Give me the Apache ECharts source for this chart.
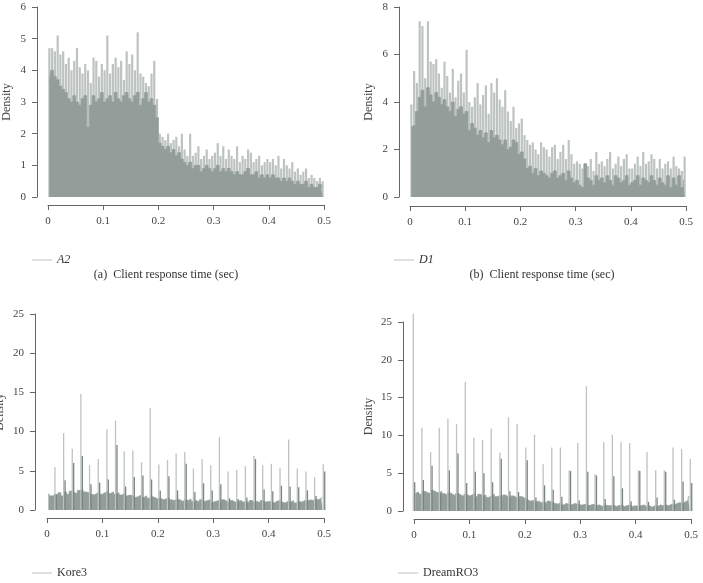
<!DOCTYPE html>
<html>
<head>
<meta charset="utf-8">
<script src="https://cdn.jsdelivr.net/npm/echarts@6/dist/echarts.min.js"></script>
<style>
  html, body { margin: 0; padding: 0; background: #fff; }
  #chart { width: 703px; height: 583px; }
</style>
</head>
<body>
<div id="chart"></div>
<script>
// bins of 0.005 sec from 0 to 0.5 (100 bins per panel)
const a2Body = [
  3.6, 4.0, 3.8, 3.7, 3.5, 3.4, 3.3, 3.1, 3.0, 3.2,
  3.0, 2.9, 3.1, 3.2, 2.2, 2.9, 3.2, 3.0, 3.1, 3.3,
  3.0, 3.1, 3.2, 3.0, 3.3, 3.1, 3.0, 3.2, 3.3, 3.1,
  3.0, 3.2, 3.3, 2.9, 3.1, 3.3, 3.0, 3.1, 2.9, 2.5,
  1.7, 1.6, 1.5, 1.6, 1.4, 1.5, 1.3, 1.4, 1.2, 1.1,
  1.0, 1.1, 0.9, 1.0, 1.0, 0.8, 0.9, 1.0, 0.9, 0.8,
  0.9, 1.0, 0.8, 0.9, 0.8, 0.9, 0.8, 0.7, 0.8, 0.7,
  0.7, 0.8, 0.9, 0.7, 0.7, 0.8, 0.6, 0.7, 0.6, 0.7,
  0.6, 0.7, 0.6, 0.6, 0.5, 0.6, 0.5, 0.6, 0.5, 0.4,
  0.5, 0.4, 0.4, 0.5, 0.3, 0.4, 0.3, 0.3, 0.4, 0.3
]
const a2Tips = [
  4.7, 4.7, 4.6, 5.1, 4.5, 4.6, 4.2, 4.4, 4.0, 4.3,
  4.7, 4.1, 3.9, 4.2, 4.0, 3.6, 4.4, 4.3, 3.8, 4.2,
  4.0, 5.1, 3.9, 4.2, 4.4, 4.1, 4.3, 3.7, 4.6, 4.2,
  4.5, 4.0, 5.2, 3.9, 3.8, 3.6, 3.5, 3.9, 4.3, 3.1,
  2.0, 1.9, 1.8, 2.0, 1.7, 1.8, 1.9, 1.6, 2.0, 1.5,
  1.3, 2.0, 1.3, 1.4, 1.6, 1.2, 1.3, 1.5, 1.2, 1.3,
  1.4, 1.7, 1.3, 1.6, 1.2, 1.5, 1.3, 1.2, 1.6, 1.1,
  1.3, 1.2, 1.5, 1.4, 1.1, 1.2, 1.3, 1.0, 1.1, 1.2,
  1.1, 1.2, 1.0, 1.3, 0.9, 1.2, 1.0, 0.9, 1.1, 0.8,
  0.9, 0.7, 0.8, 0.9, 0.6, 0.7, 0.6, 0.5, 0.6, 0.5
]
const d1Body = [
  2.9, 3.0, 3.6, 4.2, 4.5, 3.8, 4.6, 4.3, 4.0, 4.4,
  4.2, 3.9, 4.1, 3.8, 3.6, 4.0, 3.4, 3.7, 3.8, 3.5,
  3.6, 2.8, 3.1, 2.9, 2.6, 2.8, 2.5, 2.7, 2.3, 2.8,
  2.5, 2.6, 2.4, 2.2, 2.4, 2.0, 2.1, 2.4, 2.3, 1.8,
  1.9, 1.6, 1.2, 1.3, 1.0, 1.2, 0.9, 1.1, 1.0, 0.9,
  0.8, 1.0, 1.1, 0.8, 0.9, 1.0, 0.7, 1.1, 0.8, 0.6,
  0.7, 0.5, 0.4, 1.4, 0.8, 0.7, 0.5, 0.9, 0.7, 0.8,
  0.6, 0.9, 0.7, 0.5, 0.9, 0.8, 0.6, 0.7, 0.9, 0.5,
  0.6, 0.7, 0.9, 0.5, 0.8, 0.7, 0.6, 0.9, 0.7, 0.5,
  0.8, 0.6, 0.5, 0.9, 0.4, 0.8, 0.5, 0.9, 0.4, 0.7
]
const d1Tips = [
  3.9, 5.3, 4.8, 7.4, 7.2, 5.0, 7.4, 5.7, 5.6, 5.8,
  5.2, 4.6, 5.7, 5.1, 4.4, 5.4, 4.2, 4.9, 5.2, 4.4,
  6.2, 4.0, 3.8, 4.2, 4.8, 3.9, 4.3, 4.7, 3.5, 4.8,
  4.4, 5.0, 4.1, 3.8, 4.5, 3.6, 3.2, 3.8, 2.9, 3.1,
  3.3, 2.6, 2.4, 2.2, 2.3, 2.0, 1.8, 2.3, 2.1, 2.0,
  1.7, 2.1, 2.2, 1.6, 1.9, 2.2, 1.6, 2.4, 1.8, 1.4,
  1.5, 1.4, 1.2, 1.4, 1.3, 1.6, 1.1, 1.9, 1.4, 1.5,
  1.3, 1.6, 1.9, 1.2, 1.4, 1.7, 1.3, 1.6, 1.8, 1.2,
  1.2, 1.4, 1.7, 1.3, 1.9, 1.4, 1.5, 1.8, 1.6, 1.2,
  1.6, 1.2, 1.4, 1.5, 1.2, 1.7, 1.3, 1.2, 1.1, 1.7
]
const kore3Body = [
  2.1, 1.8, 2.0, 1.9, 2.2, 1.8, 2.3, 2.0, 2.4, 2.2,
  2.1, 2.5, 2.6, 2.3, 2.2, 2.0, 1.9, 2.1, 2.3, 2.0,
  2.2, 2.4, 2.1, 2.3, 2.0, 2.2, 1.9, 2.1, 1.8, 1.9,
  1.8, 1.6, 1.7, 1.9, 1.6, 1.8, 1.5, 1.7, 1.6, 1.4,
  1.5, 1.3, 1.4, 1.6, 1.3, 1.2, 1.4, 1.3, 1.1, 1.3,
  1.2, 1.4, 1.1, 1.2, 1.0, 1.3, 1.1, 1.2, 1.3, 1.0,
  1.1, 1.2, 1.0, 1.3, 1.1, 0.9, 1.2, 1.0, 1.1, 1.2,
  1.0, 1.1, 0.9, 1.2, 1.0, 1.1, 0.9, 1.2, 1.0, 1.1,
  1.0, 0.9, 1.1, 1.2, 1.0, 0.9, 1.1, 1.0, 1.2, 0.9,
  1.1, 1.0, 1.2, 1.1, 1.3, 1.2, 1.4, 1.3, 1.5, 1.6
]
const kore3SpikeX = [
  0.0156, 0.0313, 0.0469, 0.0625, 0.0781, 0.0938, 0.1094, 0.125,
  0.1406, 0.1563, 0.1719, 0.1875, 0.2031, 0.2188, 0.2344, 0.25,
  0.2656, 0.2813, 0.2969, 0.3125, 0.3281, 0.3438, 0.3594, 0.375,
  0.3906, 0.4063, 0.4219, 0.4375, 0.4531, 0.4688, 0.4844, 0.5
]
const kore3Spikes = [
  5.5, 9.8, 7.8, 14.8, 5.7, 6.5, 10.3, 11.4,
  7.5, 7.6, 6.1, 13.0, 5.8, 6.4, 7.2, 7.4,
  5.3, 6.5, 5.7, 9.3, 4.9, 5.1, 5.6, 6.9,
  5.7, 5.9, 5.4, 9.0, 5.3, 4.9, 4.2, 5.9
]
const kore3Inner = [
  2.0, 3.8, 6.0, 6.9, 3.3, 3.5, 3.9, 8.3,
  3.0, 4.2, 4.4, 3.9, 2.5, 4.3, 2.5, 5.9,
  2.3, 3.4, 2.5, 3.3, 1.5, 1.4, 1.6, 6.5,
  2.6, 2.4, 3.1, 3.0, 2.9, 2.5, 1.8, 4.9
]
const dreamBody = [
  2.3, 2.5, 2.2, 2.6, 2.4, 2.3, 2.7, 2.5, 2.4, 2.6,
  2.3, 2.1, 2.4, 2.2, 2.0, 2.3, 2.1, 1.9, 2.2, 2.0,
  2.1, 2.3, 1.9, 2.2, 2.0, 2.1, 1.8, 2.0, 2.2, 1.9,
  2.0, 1.8, 2.1, 1.9, 1.7, 2.0, 1.8, 1.6, 1.9, 1.7,
  1.5, 1.3, 1.4, 1.2, 1.3, 1.1, 1.2, 1.0, 1.3, 1.1,
  1.0, 0.9, 1.1, 0.8, 1.0, 0.9, 0.8, 1.0, 0.9, 0.8,
  0.8, 0.9, 0.7, 0.8, 0.9, 0.7, 0.8, 0.6, 0.8, 0.7,
  0.7, 0.8, 0.6, 0.7, 0.8, 0.6, 0.7, 0.8, 0.6, 0.7,
  0.6, 0.7, 0.8, 0.6, 0.7, 0.5, 0.7, 0.6, 0.8, 0.7,
  0.8, 0.7, 0.9, 0.8, 1.0, 1.1, 1.0, 1.2, 1.4, 1.9
]
const dreamSpikeX = [
  0, 0.0156, 0.0313, 0.0469, 0.0625, 0.0781, 0.0938, 0.1094, 0.125,
  0.1406, 0.1563, 0.1719, 0.1875, 0.2031, 0.2188, 0.2344, 0.25,
  0.2656, 0.2813, 0.2969, 0.3125, 0.3281, 0.3438, 0.3594, 0.375,
  0.3906, 0.4063, 0.4219, 0.4375, 0.4531, 0.4688, 0.4844, 0.5
]
const dreamSpikes = [
  26.1, 11.0, 7.8, 11.0, 12.2, 11.5, 17.1, 9.7, 9.4,
  10.9, 7.7, 12.4, 11.5, 8.4, 10.1, 6.2, 8.4,
  8.4, 5.4, 9.0, 16.5, 4.9, 9.1, 10.1, 9.1,
  9.0, 5.4, 7.8, 5.4, 5.4, 8.4, 8.2, 6.9
]
const dreamInner = [
  3.8, 4.1, 6.0, 2.3, 5.4, 7.6, 3.7, 5.2, 5.0,
  3.8, 6.9, 2.6, 2.5, 6.7, 1.8, 3.4, 2.8,
  1.9, 5.3, 1.4, 5.2, 4.7, 1.6, 4.6, 3.0,
  1.3, 5.3, 1.2, 1.8, 5.2, 1.5, 3.9, 3.7
]
const xTickStep = 0.1

const FONT = '"Liberation Serif", "DejaVu Serif", serif'
const BAR = '#939d9a'
const TIP = '#bcc3c1'
const DARK = '#7b8582'
const AXIS = '#666'

const grids = [], xAxes = [], yAxes = [], series = [], legends = [], texts = []

function addPanel(p) {
  const g = grids.length
  grids.push({
    left: p.left, top: p.top, width: p.width, height: p.height,
    containLabel: false, outerBoundsMode: 'none'
  })

  const xBody = xAxes.length
  xAxes.push({ type: 'category', gridIndex: g, show: false, data: p.body.map((_, i) => i) })
  const xTips = xAxes.length
  xAxes.push({ type: 'category', gridIndex: g, show: false, data: p.body.map((_, i) => i) })
  const xVal = xAxes.length
  xAxes.push({
    type: 'value', gridIndex: g, position: 'bottom', min: 0, max: 0.5, interval: xTickStep,
    offset: p.xOffset,
    axisLine: { show: true, onZero: false, lineStyle: { color: AXIS, width: 1 } },
    axisTick: { show: true, length: 5, lineStyle: { color: AXIS } },
    axisLabel: { color: '#444', fontFamily: FONT, fontSize: 11, margin: 11 },
    splitLine: { show: false }
  })

  const y = yAxes.length
  yAxes.push({
    type: 'value', gridIndex: g, position: 'left', min: 0, max: p.yMax, interval: p.yStep,
    offset: p.yOffset,
    name: 'Density', nameLocation: 'middle', nameGap: p.nameGap,
    nameTextStyle: { color: '#444', fontFamily: FONT, fontSize: 12 },
    axisLine: { show: true, onZero: false, lineStyle: { color: AXIS, width: 1 } },
    axisTick: { show: true, length: 5, lineStyle: { color: AXIS } },
    axisLabel: { color: '#444', fontFamily: FONT, fontSize: 11, margin: 11 },
    splitLine: { show: false }
  })

  if (p.tips) {
    series.push({
      name: p.label, type: 'bar', xAxisIndex: xTips, yAxisIndex: y,
      data: p.tips, barWidth: 2.2, itemStyle: { color: TIP }, z: 1
    })
  }
  // solid histogram body drawn as a stepped area so neighbouring bins leave no seams
  series.push({
    name: p.label + ' body', type: 'line', xAxisIndex: xBody, yAxisIndex: y,
    data: p.body, step: 'middle', symbol: 'none',
    lineStyle: { color: BAR, width: 0.8 },
    areaStyle: { color: BAR, opacity: 1 }, z: 2
  })
  if (p.spikes) {
    series.push({
      name: p.label, type: 'bar', xAxisIndex: xVal, yAxisIndex: y, clip: false,
      data: p.spikeX.map((x, i) => [x, p.spikes[i]]),
      barWidth: 1.3, itemStyle: { color: TIP }, z: 3
    })
    series.push({
      name: p.label + ' inner', type: 'bar', xAxisIndex: xVal, yAxisIndex: y, clip: false,
      data: p.spikeX.map((x, i) => [x, p.inner[i]]),
      barWidth: 1.3, itemStyle: { color: DARK }, z: 4
    })
  }

  legends.push({
    left: p.legendLeft, top: p.legendTop, orient: 'horizontal',
    data: [{ name: p.label, icon: 'rect' }],
    itemWidth: 20, itemHeight: 1, itemGap: 0, selectedMode: false,
    textStyle: { color: '#333', fontFamily: FONT, fontSize: 12, fontStyle: p.italic ? 'italic' : 'normal' }
  })

  if (p.caption) {
    texts.push({
      type: 'text', x: p.captionX, y: p.captionY,
      style: {
        text: p.caption, fill: '#333', font: '12px ' + FONT,
        align: 'center', verticalAlign: 'middle', textAlign: 'center', textVerticalAlign: 'middle'
      }
    })
  }
}

addPanel({
  label: 'A2', italic: true, body: a2Body, tips: a2Tips,
  left: 48, top: 7, width: 276, height: 190, xOffset: 8, yOffset: 11, nameGap: 24,
  yMax: 6, yStep: 1, legendLeft: 27, legendTop: 249,
  caption: '(a)  Client response time (sec)', captionX: 166, captionY: 275
})
addPanel({
  label: 'D1', italic: true, body: d1Body, tips: d1Tips,
  left: 410, top: 7, width: 276, height: 190, xOffset: 9, yOffset: 11, nameGap: 24,
  yMax: 8, yStep: 2, legendLeft: 389, legendTop: 249,
  caption: '(b)  Client response time (sec)', captionX: 542, captionY: 275
})
addPanel({
  label: 'Kore3', italic: false, body: kore3Body,
  spikeX: kore3SpikeX, spikes: kore3Spikes, inner: kore3Inner,
  left: 47, top: 314, width: 277, height: 196, xOffset: 8, yOffset: 12, nameGap: 29,
  yMax: 25, yStep: 5, legendLeft: 27, legendTop: 562
})
addPanel({
  label: 'DreamRO3', italic: false, body: dreamBody,
  spikeX: dreamSpikeX, spikes: dreamSpikes, inner: dreamInner,
  left: 414, top: 322, width: 277, height: 189, xOffset: 8, yOffset: 11, nameGap: 28,
  yMax: 25, yStep: 5, legendLeft: 393, legendTop: 562
})

const chart = echarts.init(document.getElementById('chart'))
chart.setOption({
  animation: false,
  backgroundColor: '#fff',
  grid: grids,
  xAxis: xAxes,
  yAxis: yAxes,
  legend: legends,
  graphic: texts,
  series: series
})
</script>
</body>
</html>
